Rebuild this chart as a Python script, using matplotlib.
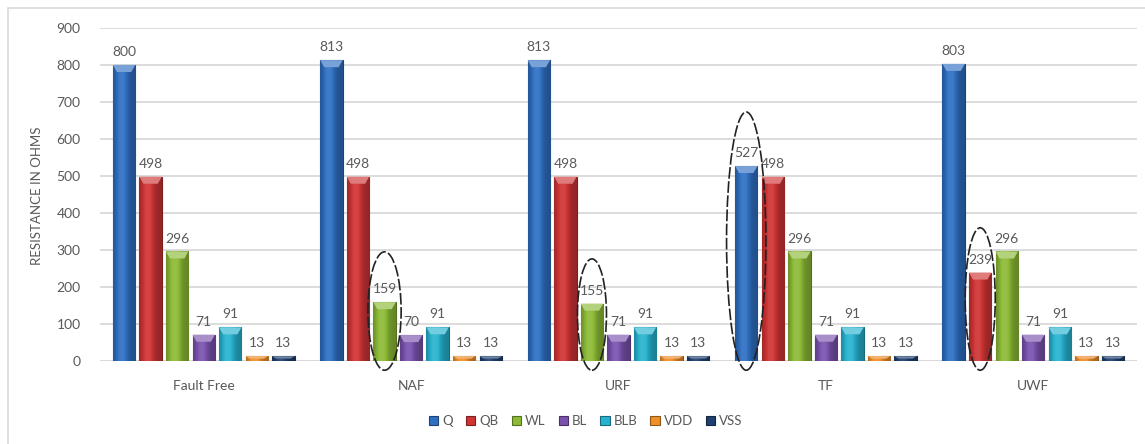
import numpy as np
import matplotlib
matplotlib.use("Agg")
import matplotlib.pyplot as plt
from matplotlib.patches import Ellipse, Rectangle, Polygon
from matplotlib.colors import to_rgb

# ---- data ---------------------------------------------------------------
categories = ["Fault Free", "NAF", "URF", "TF", "UWF"]
series_names = ["Q", "QB", "WL", "BL", "BLB", "VDD", "VSS"]
q_vals = [800, 813, 813, 527, 803]
qb_vals = [498, 498, 498, 498, 239]
wl_vals = [296, 159, 155, 296, 296]
bl_vals = [71, 70, 71, 71, 71]
blb_vals = [91, 91, 91, 91, 91]
vdd_vals = [13, 13, 13, 13, 13]
vss_vals = [13, 13, 13, 13, 13]
series_values = [q_vals, qb_vals, wl_vals, bl_vals, blb_vals, vdd_vals, vss_vals]
y_ticks = [0, 100, 200, 300, 400, 500, 600, 700, 800, 900]

# highlighted (category, series) pairs
highlights = [("NAF", "WL"), ("URF", "WL"), ("TF", "Q"), ("UWF", "QB")]

# ---- style --------------------------------------------------------------
colors = ["#2f6fc2", "#cf3434", "#8cba35", "#7a52ad", "#27b2cf", "#ef8f2a", "#1f3f6e"]
text_col = "#595959"
grid_col = "#d9d9d9"
plt.rcParams["font.family"] = ["Lato", "DejaVu Sans"]

W, H = 1145, 444
fig = plt.figure(figsize=(W / 100, H / 100), dpi=100)
ax = fig.add_axes([100 / W, (H - 361) / H, 1037 / W, 333 / H])

pitch = 0.128
bar_w = 0.108
x = np.arange(len(categories))


def shade(rgb, f):
    rgb = np.array(rgb)
    if f >= 1:
        return rgb + (1 - rgb) * (f - 1)
    return rgb * f


# horizontal shading profile for the glossy bar look
prof_t = np.linspace(0, 1, 64)
prof = 0.72 + 0.40 * np.exp(-((prof_t - 0.38) / 0.28) ** 2)
prof = np.minimum(prof, 1.08)
px_to_data = 900 / 333.0

for j, (name, vals) in enumerate(zip(series_names, series_values)):
    base = to_rgb(colors[j])
    xs = x + (j - 3) * pitch
    bars = ax.bar(xs, vals, width=bar_w, color=colors[j],
                  edgecolor=shade(base, 0.6), linewidth=0.8,
                  zorder=3, label=name)
    grad = np.array([[shade(base, f) for f in prof]])
    for b, v in zip(bars, vals):
        x0 = b.get_x()
        x1 = x0 + b.get_width()
        im = ax.imshow(grad, extent=(x0, x1, 0, v), aspect="auto",
                       interpolation="bilinear", zorder=3.5)
        im.set_clip_path(b)
        cap = min(7 * px_to_data, v * 0.5)
        inset = b.get_width() * 0.18
        ax.add_patch(Polygon([(x0, v), (x1, v), (x1 - inset, v - cap),
                              (x0 + inset, v - cap)], closed=True,
                             facecolor=shade(base, 1.35), edgecolor="none",
                             zorder=3.8))
        ax.annotate(str(v), (b.get_x() + b.get_width() / 2, v),
                    xytext=(0, 5), textcoords="offset points",
                    ha="center", va="bottom", fontsize=10, color=text_col,
                    zorder=5)

# dashed ellipses around the highlighted bars: (width, space above bar top)
ell_geom = {("NAF", "WL"): (0.16, 136), ("URF", "WL"): (0.14, 121),
            ("TF", "Q"): (0.19, 146), ("UWF", "QB"): (0.145, 121)}
ell_bottom = -25
for cat, ser in highlights:
    ci = categories.index(cat)
    sj = series_names.index(ser)
    v = series_values[sj][ci]
    w, pad = ell_geom[(cat, ser)]
    top = v + pad
    e = Ellipse((ci + (sj - 3) * pitch, (top + ell_bottom) / 2), w,
                top - ell_bottom, facecolor="none",
                edgecolor="#222222", linewidth=1.2, linestyle=(0, (7, 1.5)),
                zorder=6, clip_on=False)
    ax.add_patch(e)

ax.set_xlim(-0.5, len(categories) - 0.5)
ax.set_ylim(0, 900)
ax.set_yticks(y_ticks)
ax.set_xticks(x)
ax.set_xticklabels(categories)
ax.tick_params(axis="both", length=0, colors=text_col, labelsize=10)
ax.tick_params(axis="y", pad=14)
ax.tick_params(axis="x", pad=14)
ax.yaxis.grid(True, color=grid_col, linewidth=1.3, zorder=0)
ax.set_axisbelow(True)
for s in ax.spines.values():
    s.set_visible(False)
ax.axhline(0, color=grid_col, linewidth=1.3, zorder=1)

fig.text(37 / W, 1 - 196 / H, "RESISTANCE IN OHMS", rotation=90,
         ha="center", va="center", fontsize=9.5, color=text_col)

leg = fig.legend(loc="center", bbox_to_anchor=(586 / W, 1 - 421 / H),
                 ncol=7, frameon=False, handlelength=0.7, handleheight=0.7,
                 handletextpad=0.3, columnspacing=1.0, fontsize=9.5)
for t in leg.get_texts():
    t.set_color(text_col)

# chart frame
fig.patches.append(Rectangle((8 / W, -0.05), 1.2, (H - 8) / H + 0.05,
                             transform=fig.transFigure, fill=False,
                             edgecolor=grid_col, linewidth=1.2))

fig.savefig("out.png", dpi=100)
